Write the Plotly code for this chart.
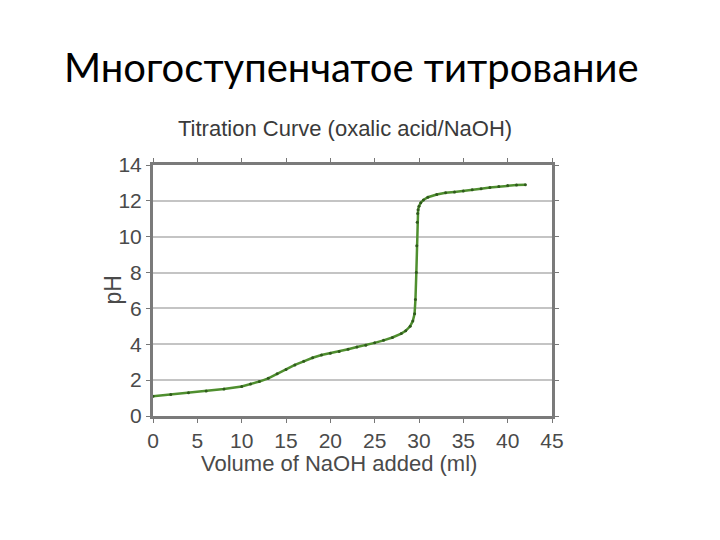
import plotly.graph_objects as go

volume = [0, 2, 4, 6, 8, 10, 11, 12, 13, 14, 15, 16, 17, 18, 19, 20, 21, 22, 23, 24, 25,
          26, 27, 28, 28.5, 29, 29.3, 29.5, 29.6, 29.7, 29.75, 29.8, 29.85, 29.9, 30, 30.2,
          30.5, 31, 32, 33, 34, 35, 36, 37, 38, 39, 40, 41, 42]
ph = [1.1, 1.2, 1.3, 1.4, 1.5, 1.65, 1.78, 1.92, 2.1, 2.35, 2.6, 2.85, 3.05, 3.25, 3.4, 3.5,
      3.6, 3.72, 3.85, 3.95, 4.08, 4.22, 4.38, 4.6, 4.75, 5.0, 5.3, 5.7, 6.5, 8.0, 9.5, 10.8,
      11.3, 11.5, 11.7, 11.9, 12.05, 12.2, 12.35, 12.45, 12.5, 12.55, 12.62, 12.68, 12.75,
      12.8, 12.85, 12.88, 12.9]

x_ticks = [0, 5, 10, 15, 20, 25, 30, 35, 40, 45]
y_ticks = [0, 2, 4, 6, 8, 10, 12, 14]

slide_title = "Многоступенчатое титрование"
chart_title = "Titration Curve (oxalic acid/NaOH)"
x_title = "Volume of NaOH added (ml)"
y_title = "pH"

fig = go.Figure()
fig.add_trace(go.Scatter(
    x=volume, y=ph, mode="lines+markers",
    line=dict(color="#4f8f2f", width=2.5),
    marker=dict(color="#2f5a1c", size=3),
    showlegend=False,
))

tick_font = dict(family="Liberation Sans, Arial, sans-serif", size=21, color="#4a4a4a")
label_font = dict(family="Liberation Sans, Arial, sans-serif", size=22, color="#4a4a4a")

fig.update_layout(
    width=720, height=540,
    paper_bgcolor="white", plot_bgcolor="white",
    margin=dict(l=145, r=176, t=157, b=132),
    annotations=[
        dict(text=slide_title, x=0.5, y=1, xref="paper", yref="paper",
             xanchor="center", yanchor="bottom", yshift=72, xshift=-1,
             showarrow=False,
             font=dict(family="Lato, Noto Sans, sans-serif", size=40, color="#000000")),
        dict(text=chart_title, x=0.48, y=1, xref="paper", yref="paper",
             xanchor="center", yanchor="bottom", yshift=22,
             showarrow=False,
             font=dict(family="Liberation Sans, Arial, sans-serif", size=22, color="#3a3a3a")),
        dict(text=x_title, x=0.466, y=0, xref="paper", yref="paper",
             xanchor="center", yanchor="middle", yshift=-47,
             showarrow=False, font=label_font),
        dict(text=y_title, x=0, y=0.5, xref="paper", yref="paper",
             xanchor="center", yanchor="middle", xshift=-41, textangle=-90,
             showarrow=False, font=dict(family="Liberation Sans, Arial, sans-serif",
                                        size=23, color="#4a4a4a")),
    ],
    xaxis=dict(
        range=[0, 45], tickvals=x_ticks, ticks="outside", ticklen=4, tickwidth=1,
        tickcolor="#777777", showline=True, linecolor="#7a7a7a", linewidth=3, mirror="ticks",
        showgrid=False, zeroline=False, tickfont=tick_font,
    ),
    yaxis=dict(
        range=[0, 14], tickvals=y_ticks, ticks="outside", ticklen=4, tickwidth=1,
        tickcolor="#777777", showline=True, linecolor="#7a7a7a", linewidth=3, mirror="ticks",
        showgrid=True, gridcolor="#c4c4c4", gridwidth=2, zeroline=False, tickfont=tick_font,
    ),
)

fig.write_html("out.html")
